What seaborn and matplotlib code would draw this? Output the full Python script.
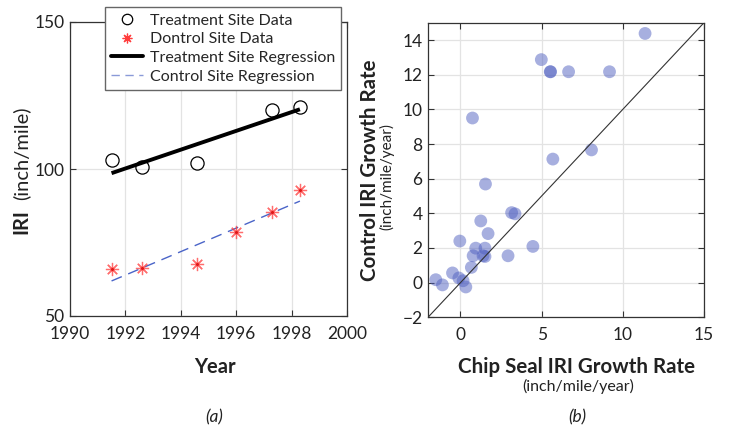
import numpy as np
import pandas as pd
import matplotlib
matplotlib.use("Agg")
import matplotlib.pyplot as plt
from matplotlib.lines import Line2D
import seaborn as sns

# IRI history at the treatment and control sites
years_treat = [1991.5, 1992.6, 1994.6, 1997.3, 1998.3]
iri_treat = [103.0, 100.6, 101.9, 120.0, 121.1]
years_ctrl = [1991.5, 1992.6, 1994.6, 1996.0, 1997.3, 1998.3]
iri_ctrl = [65.9, 66.4, 67.6, 78.6, 85.3, 92.8]

# IRI growth rates (inch/mile/year): chip seal sections vs. their controls
chip_rate = [11.37, 4.98, 5.53, 5.55, 6.66, 9.18, 0.74, 8.07, 5.69, 1.54,
             3.15, 3.36, 1.25, 1.70, -0.04, 0.94, 1.51, 4.46, 0.78, 1.39,
             1.51, 2.93, 0.67, -0.49, -0.10, 0.16, -1.52, -1.11, 0.33]
ctrl_rate = [14.38, 12.87, 12.17, 12.17, 12.17, 12.17, 9.50, 7.66, 7.13, 5.69,
             4.04, 3.97, 3.56, 2.83, 2.40, 1.99, 1.99, 2.09, 1.55, 1.55,
             1.51, 1.55, 0.88, 0.56, 0.27, 0.11, 0.17, -0.13, -0.25]

year_ticks = [1990, 1992, 1994, 1996, 1998, 2000]
iri_ticks = [50, 100, 150]
rate_xticks = [0, 5, 10, 15]
rate_yticks = [-2, 0, 2, 4, 6, 8, 10, 12, 14]

legend_labels = ["Treatment Site Data", "Dontrol Site Data",
                 "Treatment Site Regression", "Control Site Regression"]

sns.set_theme(style="ticks")
FONT = ["Lato", "DejaVu Sans"]
plt.rcParams["font.family"] = FONT

W, H = 729, 428
fig = plt.figure(figsize=(W / 100, H / 100), dpi=100)

STAR = (8, 2, 0)
STAR_COLOR = "#ff3c3c"


def px_axes(x0, y0, x1, y1):
    return fig.add_axes([x0 / W, 1 - y1 / H, (x1 - x0) / W, (y1 - y0) / H])


def style_box(ax):
    for s in ax.spines.values():
        s.set_visible(True)
        s.set_color("#333333")
        s.set_linewidth(0.9)
    ax.tick_params(direction="in", length=4, width=0.8, colors="#333333",
                   labelcolor="#222222", labelsize=12.5, top=True, right=True)
    ax.tick_params(axis="y", pad=4)
    ax.tick_params(axis="x", pad=7)
    ax.grid(True, color="#e3e3e3", linewidth=0.9)
    ax.set_axisbelow(True)
    ax.set_xlabel("")
    ax.set_ylabel("")


# ---- (a) IRI over time ----
axa = px_axes(70, 22, 347, 316)
treat = pd.DataFrame({"year": years_treat, "iri": iri_treat})
ctrl = pd.DataFrame({"year": years_ctrl, "iri": iri_ctrl})

sns.regplot(data=treat, x="year", y="iri", ax=axa, scatter=False, ci=None,
            truncate=True, line_kws=dict(color="black", lw=2.8, solid_capstyle="butt"))
sns.regplot(data=ctrl, x="year", y="iri", ax=axa, scatter=False, ci=None,
            truncate=True, line_kws=dict(color="#4a64c8", lw=1.0, dashes=(8, 5)))
axa.plot(treat["year"], treat["iri"], ls="none", marker="o", ms=9.5,
         mfc="none", mec="black", mew=0.9)
axa.plot(ctrl["year"], ctrl["iri"], ls="none", marker=STAR, ms=9.5,
         mec=STAR_COLOR, mew=0.9, alpha=0.75)
axa.plot(ctrl["year"], ctrl["iri"], ls="none", marker="o", ms=2.2,
         mfc="#e01818", mec="none")

axa.set_xlim(1990, 2000)
axa.set_ylim(50, 150)
axa.set_xticks(year_ticks)
axa.set_yticks(iri_ticks)
style_box(axa)

handles = [
    Line2D([], [], ls="none", marker="o", ms=7.5, mfc="none", mec="black", mew=0.9),
    Line2D([], [], ls="none", marker=STAR, ms=7, mec=STAR_COLOR, mew=0.9),
    Line2D([], [], color="black", lw=2.8),
    Line2D([], [], color="#8a9ad8", lw=1.0, dashes=(6, 4)),
]
leg = fig.legend(handles, legend_labels, loc="upper left",
                 bbox_to_anchor=(105 / W, 1 - 7 / H), bbox_transform=fig.transFigure,
                 borderaxespad=0, frameon=True, fancybox=False, framealpha=1,
                 edgecolor="#666666", fontsize=11.5, handlelength=2.0,
                 handletextpad=0.4, labelspacing=0.28, borderpad=0.4)
leg.get_frame().set_linewidth(1.0)

# ---- (b) growth-rate comparison ----
axb = px_axes(428, 22.7, 704, 317.3)
rates = pd.DataFrame({"chip": chip_rate, "control": ctrl_rate})
sns.scatterplot(data=rates, x="chip", y="control", ax=axb, s=85,
                color="#5060c0", alpha=0.5, edgecolor="none")
axb.axline((0, 0), slope=1, color="#333333", lw=0.8)
axb.set_xlim(-2, 15)
axb.set_ylim(-2, 15)
axb.set_xticks(rate_xticks)
axb.set_yticks(rate_yticks)
style_box(axb)

# ---- axis titles and panel tags ----
def ftext(x, y, s, **kw):
    fig.text(x / W, 1 - y / H, s, ha="center", va="center", color="#222222", **kw)


ftext(215, 367, "Year", fontsize=14.5, fontweight="bold")
ftext(21, 222, "IRI", fontsize=14.5, fontweight="bold", rotation=90)
ftext(21, 153, "(inch/mile)", fontsize=14.5, rotation=90)
ftext(214, 417, "(a)", fontsize=12.5, style="italic")

ftext(576, 367, "Chip Seal IRI Growth Rate", fontsize=14.8, fontweight="bold")
ftext(578, 386, "(inch/mile/year)", fontsize=11.5)
ftext(370, 170, "Control IRI Growth Rate", fontsize=14.8, fontweight="bold", rotation=90)
ftext(387, 177, "(inch/mile/year)", fontsize=11, rotation=90)
ftext(577, 417, "(b)", fontsize=12.5, style="italic")

fig.savefig("out.png", dpi=100)
